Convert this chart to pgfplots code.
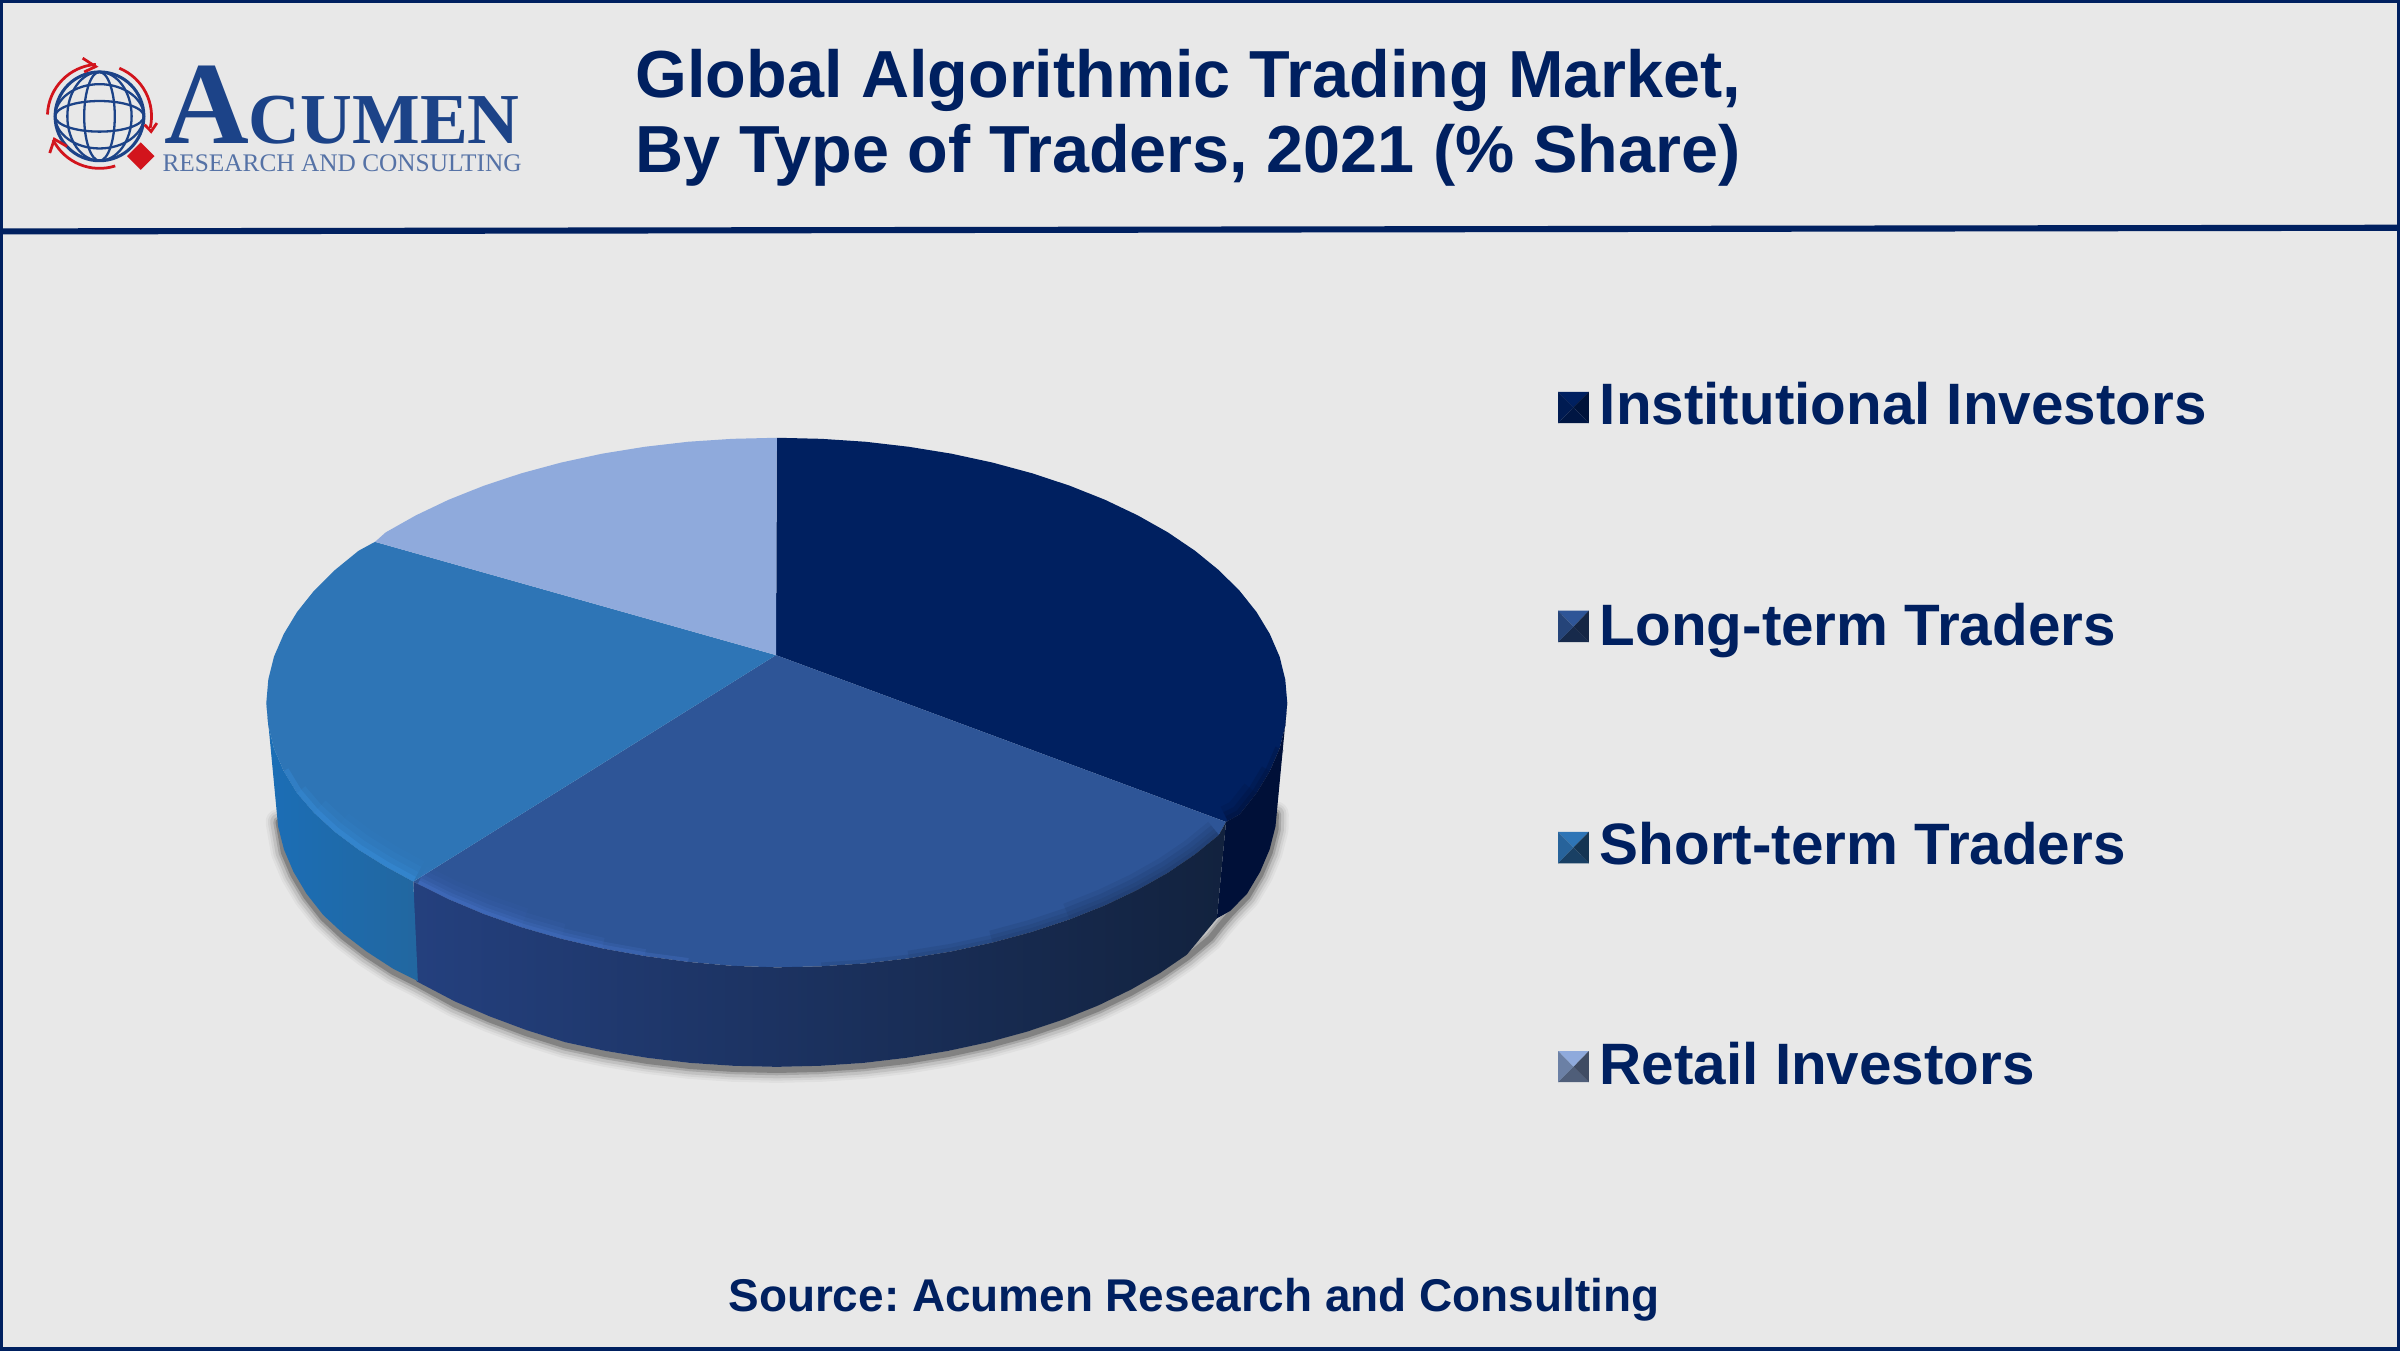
\documentclass[border=0pt]{standalone}
\usepackage{pgfplots}
\usepackage{pgfplotstable}
\usepackage{fontspec}
\pgfplotsset{compat=1.18}
\setmainfont{Liberation Sans}
\newfontfamily\logofont{Liberation Serif}
\definecolor{bgc}{HTML}{E8E8E8}
\definecolor{navy}{HTML}{002060}
\definecolor{inst}{HTML}{002060}
\definecolor{long}{HTML}{2E5597}
\definecolor{short}{HTML}{2E75B6}
\definecolor{retail}{HTML}{8FAADC}
\definecolor{logoblue}{HTML}{1C4388}
\definecolor{logored}{HTML}{D2141C}
\definecolor{rimA}{RGB}{58,149,230}
\definecolor{rimB}{RGB}{78,122,212}
\definecolor{rimC}{RGB}{20,38,75}
\definecolor{rimD}{RGB}{0,14,50}
\pgfplotstableread{
x y
833.5 530
833.3 540
829.5 554.9
823.3 569.5
814.8 583.8
803.9 595
797 603
790.7 611
775.4 623.7
758 635.6
738.7 646.6
717.7 656.8
695.1 665.9
671 674
645.7 680.9
619.3 686.6
592.1 691.1
564.3 694.4
536 696.3
507.5 697
479 696.3
450.7 694.4
422.9 691.1
395.7 686.6
369.3 680.9
344 673
319.9 664
297.3 654.3
273 641
257 633
239.6 621.7
224.3 610
211.1 597.7
200.2 583.8
191.7 569.5
185.5 554.9
182 535
}\botedge
\newcommand{\lbox}[7]{%
 \addplot[draw=none,fill=#4,forget plot] coordinates {(1018,#1) (1038,#1) (1028,#2)};
 \addplot[draw=none,fill=#5,forget plot] coordinates {(1018,#1) (1018,#3) (1028,#2)};
 \addplot[draw=none,fill=#6,forget plot] coordinates {(1038,#1) (1038,#3) (1028,#2)};
 \addplot[draw=none,fill=#7,forget plot] coordinates {(1018,#3) (1038,#3) (1028,#2)};
}
\newcommand{\rim}[4]{\addplot[draw=#1,line width=#2bp,opacity=#3,line join=round,forget plot] coordinates {#4};}
\newcommand{\shadow}[3]{\addplot[draw=#1,line width=#2bp,opacity=#3,line join=round,line cap=round,forget plot] table[x=x,y expr=\thisrow{y}+2] {\botedge};}
\begin{document}
\frenchspacing
\begin{tikzpicture}
\begin{axis}[
  scale only axis, width=1568bp, height=882bp,
  xmin=0, xmax=1568, ymin=0, ymax=882, y dir=reverse,
  hide axis, clip=true]
% background
\addplot[draw=none,fill=bgc,forget plot] coordinates {(0,0) (1568,0) (1568,882) (0,882)};
% soft shadow under the pie
\shadow{gray!85!black}{17}{.07}
\shadow{gray!85!black}{14}{.10}
\shadow{gray!80!black}{11}{.16}
\shadow{gray!70!black}{7}{.26}
\shadow{gray!60!black}{4}{.40}
% top faces: Institutional 35, Long-term 30, Short-term 20, Retail 15
\addplot[draw=none,fill=inst,forget plot] coordinates {(507,428) (507.5,286) (536.6,286.7) (565.4,288.6) (593.8,291.9) (621.6,296.4) (648.4,302.2) (674.3,309.2) (698.8,317.3) (721.9,326.5) (743.3,336.7) (763,347.8) (780.7,359.8) (796.3,372.5) (809.8,385.9) (820.9,399.8) (829.6,414.2) (836,429) (839.7,443.9) (841,459) (839.7,474.1) (836,489) (829.6,503.8) (820.9,518.2) (809.8,532.1) (801,537)};
\addplot[draw=none,fill=long,forget plot] coordinates {(507,428) (801,537) (796.3,545.5) (780.7,558.2) (763,570.2) (743.3,581.3) (721.9,591.5) (698.8,600.7) (674.3,608.8) (648.4,615.8) (621.6,621.6) (593.8,626.1) (565.4,629.4) (536.6,631.3) (507.5,632) (478.4,631) (449.6,628.4) (421.2,624.6) (393.4,619.6) (366.6,613.3) (340.7,605.8) (316.2,597.2) (293.1,587.5) (270,576)};
\addplot[draw=none,fill=short,forget plot] coordinates {(507,428) (270,576) (252,566.2) (234.3,555.2) (218.7,543.5) (205.2,531.1) (194.1,518.2) (185.4,503.8) (179,489) (175.3,474.1) (174,459) (175.3,443.9) (179,429) (185.4,414.2) (194.1,399.8) (205.2,385.9) (218.7,372.5) (234.3,359.8) (245,354)};
\addplot[draw=none,fill=retail,forget plot] coordinates {(507,428) (245,354) (252,347.8) (271.7,336.7) (293.1,326.5) (316.2,317.3) (340.7,309.2) (366.6,302.2) (393.4,296.4) (421.2,291.9) (449.6,288.6) (478.4,286.7) (507.5,286)};
% bevel along the front rim
\rim{rimA}{30}{.06}{(270,576) (252,566.2) (234.3,555.2) (218.7,543.5)}
\rim{rimA}{22}{.10}{(270,576) (252,566.2) (234.3,555.2) (218.7,543.5) (205.2,531.1)}
\rim{rimA}{14}{.16}{(270,576) (252,566.2) (234.3,555.2) (218.7,543.5) (205.2,531.1) (194.1,518.2)}
\rim{rimA}{7}{.30}{(270,576) (252,566.2) (234.3,555.2) (218.7,543.5) (205.2,531.1) (194.1,518.2) (185.4,503.8)}
\rim{rimB}{26}{.05}{(273,577.5) (293.1,587.5) (316.2,597.2) (340.7,605.8)}
\rim{rimB}{20}{.08}{(273,577.5) (293.1,587.5) (316.2,597.2) (340.7,605.8) (366.6,613.3)}
\rim{rimB}{14}{.12}{(273,577.5) (293.1,587.5) (316.2,597.2) (340.7,605.8) (366.6,613.3) (393.4,619.6)}
\rim{rimB}{9}{.17}{(273,577.5) (293.1,587.5) (316.2,597.2) (340.7,605.8) (366.6,613.3) (393.4,619.6) (421.2,624.6)}
\rim{rimB}{5}{.25}{(273,577.5) (293.1,587.5) (316.2,597.2) (340.7,605.8) (366.6,613.3) (393.4,619.6) (421.2,624.6) (449.6,628.4)}
\rim{rimC}{5}{.12}{(536.6,631.3) (565.4,629.4) (593.8,626.1) (621.6,621.6) (648.4,615.8) (674.3,608.8) (698.8,600.7) (721.9,591.5) (743.3,581.3) (763,570.2) (780.7,558.2) (796.3,545.5)}
\rim{rimC}{10}{.12}{(593.8,626.1) (621.6,621.6) (648.4,615.8) (674.3,608.8) (698.8,600.7) (721.9,591.5) (743.3,581.3) (763,570.2) (780.7,558.2) (796.3,545.5)}
\rim{rimC}{16}{.12}{(648.4,615.8) (674.3,608.8) (698.8,600.7) (721.9,591.5) (743.3,581.3) (763,570.2) (780.7,558.2) (796.3,545.5)}
\rim{rimC}{22}{.10}{(698.8,600.7) (721.9,591.5) (743.3,581.3) (763,570.2) (780.7,558.2) (796.3,545.5)}
\rim{rimD}{6}{.25}{(802,536) (809.8,532.1) (820.9,518.2) (829.6,503.8) (836,489)}
\rim{rimD}{12}{.20}{(802,536) (809.8,532.1) (820.9,518.2) (829.6,503.8)}
\rim{rimD}{20}{.15}{(802,536) (809.8,532.1) (820.9,518.2)}
% side walls
\addplot[draw=none,fill={rgb,255:red,0;green,16;blue,56},forget plot] coordinates {(801,537) (809.8,532.1) (820.9,518.2) (829.6,503.8) (836,489) (839.7,474.1) (841,459) (833.3,540) (829.5,554.9) (823.3,569.5) (814.8,583.8) (803.9,595) (795,600)};
\addplot[draw=none,left color={rgb,255:red,36;green,64;blue,126},middle color={rgb,255:red,28;green,46;blue,92},right color={rgb,255:red,18;green,34;blue,62},forget plot] coordinates {(801,537) (796.3,545.5) (780.7,558.2) (763,570.2) (743.3,581.3) (721.9,591.5) (698.8,600.7) (674.3,608.8) (648.4,615.8) (621.6,621.6) (593.8,626.1) (565.4,629.4) (536.6,631.3) (507.5,632) (478.4,631) (449.6,628.4) (421.2,624.6) (393.4,619.6) (366.6,613.3) (340.7,605.8) (316.2,597.2) (293.1,587.5) (270,576) (272,641) (297.3,654.3) (319.9,664) (344,673) (369.3,680.9) (395.7,686.6) (422.9,691.1) (450.7,694.4) (479,696.3) (507.5,697) (536,696.3) (564.3,694.4) (592.1,691.1) (619.3,686.6) (645.7,680.9) (671,674) (695.1,665.9) (717.7,656.8) (738.7,646.6) (758,635.6) (775.4,623.7) (795,600)};
\addplot[draw=none,left color={rgb,255:red,27;green,110;blue,182},right color={rgb,255:red,34;green,103;blue,160},forget plot] coordinates {(270,576) (252,566.2) (234.3,555.2) (218.7,543.5) (205.2,531.1) (194.1,518.2) (185.4,503.8) (179,489) (175.3,474.1) (174,459) (181.7,540) (185.5,554.9) (191.7,569.5) (200.2,583.8) (211.1,597.7) (224.3,610) (239.6,621.7) (257,633) (273,641)};
% legend boxes
\lbox{256}{266}{276.5}{inst}{inst!85!black}{inst!60!black}{inst!70!black}{}
\lbox{399}{409.5}{419.5}{long}{long!80!black}{long!45!black}{long!50!black}{}
\lbox{543.5}{553.7}{564}{short}{short!85!black}{short!45!black}{short!55!black}{}
\lbox{686.7}{697}{707}{retail}{retail!75!black}{retail!45!black}{retail!55!black}{}
% header rule and frame
\addplot[draw=navy,line width=4bp,forget plot] coordinates {(0,151.2) (1568,148.8)};
\addplot[draw=navy,line width=4bp,forget plot] coordinates {(0,0) (1568,0) (1568,882) (0,882) (0,0)};
% texts
\node[anchor=base west,text=navy,font=\fontsize{43.65}{44}\selectfont\bfseries,inner sep=0pt] at (axis cs:415,64) {Global Algorithmic Trading Market,};
\node[anchor=base west,text=navy,font=\fontsize{43.65}{44}\selectfont\bfseries,inner sep=0pt] at (axis cs:415,113) {By Type of Traders, 2021 (\% Share)};
\node[anchor=base west,text=navy,font=\fontsize{38.3}{38}\selectfont\bfseries,inner sep=0pt] at (axis cs:1045,277.5) {Institutional Investors};
\node[anchor=base west,text=navy,font=\fontsize{38.3}{38}\selectfont\bfseries,inner sep=0pt] at (axis cs:1045,421.5) {Long-term Traders};
\node[anchor=base west,text=navy,font=\fontsize{38.3}{38}\selectfont\bfseries,inner sep=0pt] at (axis cs:1045,565) {Short-term Traders};
\node[anchor=base west,text=navy,font=\fontsize{38.3}{38}\selectfont\bfseries,inner sep=0pt] at (axis cs:1045,708.5) {Retail Investors};
\node[anchor=base,text=navy,font=\fontsize{30.1}{31}\selectfont\bfseries,inner sep=0pt] at (axis cs:780,857) {Source: Acumen Research and Consulting};
% logo
\node[anchor=base west,text=logoblue,inner sep=0pt] at (axis cs:107,94) {\logofont\bfseries\fontsize{77}{78}\selectfont A\fontsize{47}{48}\selectfont CUMEN};
\node[anchor=base west,text=logoblue!75!white,inner sep=0pt] at (axis cs:106,112) {\logofont\fontsize{16.6}{16.6}\selectfont RESEARCH AND CONSULTING};
\begin{scope}[shift={(axis cs:65,76)},x=1bp,y=1bp]
 \draw[logoblue,line width=2bp] (0,0) circle[radius=29];
 \draw[logoblue,line width=1.5bp] (0,0) ellipse[x radius=10,y radius=29];
 \draw[logoblue,line width=1.5bp] (0,0) ellipse[x radius=21,y radius=29];
 \draw[logoblue,line width=1.5bp] (0,0) ellipse[x radius=29,y radius=10];
 \draw[logoblue,line width=1.5bp] (0,0) ellipse[x radius=29,y radius=21];
 \draw[logored,line width=1.8bp] (178:34) arc[start angle=178,end angle=94,radius=34];
 \draw[logored,line width=1.8bp] (-11,38) -- (-2.5,32.5) -- (-10,29);
 \draw[logored,line width=1.8bp] (67.6:34) arc[start angle=67.6,end angle=-13,radius=34];
 \draw[logored,line width=1.8bp] (37.5,-4.4) -- (33.75,-9.9) -- (29.5,-5.5);
 \draw[logored,line width=1.8bp] (-72.4:34) arc[start angle=-72.4,end angle=-153,radius=34];
 \draw[logored,line width=1.8bp] (-32.5,-24) -- (-29.5,-14.9) -- (-21.2,-19.7);
\end{scope}
\addplot[draw=none,fill=logored,forget plot] coordinates {(92,93) (101,102) (92,111) (83,102)};
\end{axis}
\end{tikzpicture}
\end{document}
